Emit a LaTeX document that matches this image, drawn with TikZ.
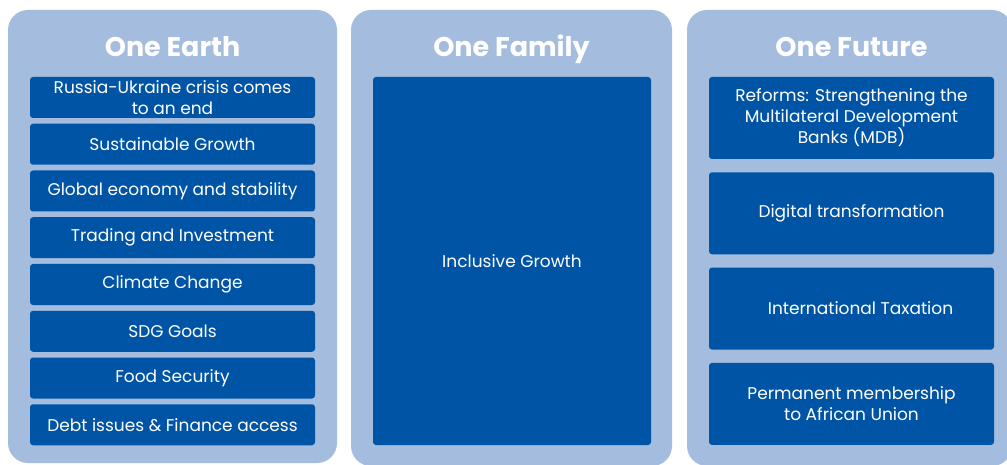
\documentclass[tikz,border=0pt]{standalone}
\usepackage{fontspec}
\setmainfont{Poppins}
\definecolor{panelblue}{RGB}{164,188,222}
\definecolor{boxblue}{RGB}{0,84,166}
\tikzset{
  panel/.style = {fill=panelblue, rounded corners=20pt},
  item/.style = {fill=boxblue, text=white, rounded corners=3pt,
                 align=center, inner sep=0pt, minimum width=#1},
  item/.default = 285pt,
  title/.style = {text=white, anchor=base, font=\fontsize{27}{30}\selectfont\bfseries}
}

\begin{document}
\begin{tikzpicture}[x=1pt, y=-1pt, font=\fontsize{17}{21}\selectfont]
	\def \rowa{46.75}
	\def \rowb{95.3}

	\clip (0,0) rectangle (1007,465);
	\fill[white] (0,0) rectangle (1007,465);

	% Panels
	\fill[panel] (8,10)   rectangle (337,463);
	\fill[panel] (351,10) rectangle (672,466);
	\fill[panel] (687,10) rectangle (1012,466);

	% Titles
	\node[title] (earth)  at (172.5,57) {One Earth};
	\node[title] (family) at (511.5,57) {One Family};
	\node[title] (future) at (851.5,57) {One Future};

	% One Earth
	\node[item, minimum height=41pt] (e1) at (172.5,97.5)        {Russia-Ukraine crisis comes\\to an end};
	\node[item, minimum height=41pt] (e2) at (172.5,97.5+\rowa)   {Sustainable Growth};
	\node[item, minimum height=41pt] (e3) at (172.5,97.5+2*\rowa) {Global economy and stability};
	\node[item, minimum height=41pt] (e4) at (172.5,97.5+3*\rowa) {Trading and Investment};
	\node[item, minimum height=41pt] (e5) at (172.5,97.5+4*\rowa) {Climate Change};
	\node[item, minimum height=41pt] (e6) at (172.5,97.5+5*\rowa) {SDG Goals};
	\node[item, minimum height=41pt] (e7) at (172.5,97.5+6*\rowa) {Food Security};
	\node[item, minimum height=41pt] (e8) at (172.5,97.5+7*\rowa) {Debt issues \& Finance access};

	% One Family
	\node[item=278pt, minimum height=368pt] (f1) at (512,261) {Inclusive Growth};

	% One Future
	\node[item, minimum height=82pt] (u1) at (851.5,118)         {Reforms: Strengthening the\\Multilateral Development\\Banks (MDB)};
	\node[item, minimum height=82pt] (u2) at (851.5,118+\rowb)   {Digital transformation};
	\node[item, minimum height=82pt] (u3) at (851.5,118+2*\rowb) {\hspace*{18pt}International Taxation};
	\node[item, minimum height=82pt] (u4) at (851.5,118+3*\rowb) {Permanent membership\\to African Union};

\end{tikzpicture}
\end{document}
